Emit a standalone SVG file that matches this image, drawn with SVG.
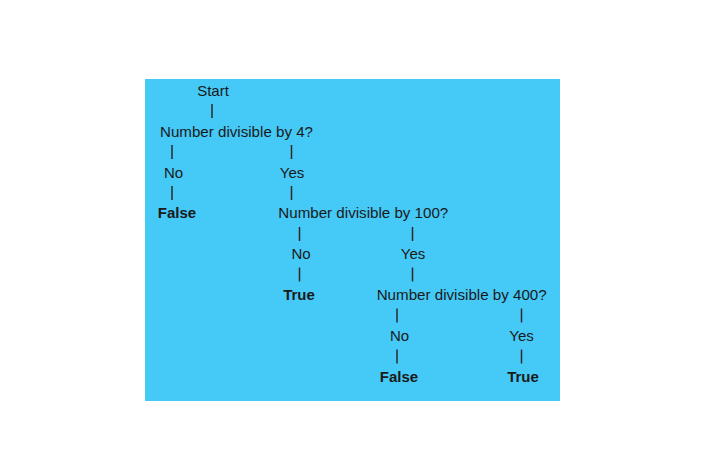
<svg xmlns="http://www.w3.org/2000/svg" width="704" height="450" viewBox="0 0 704 450">
<style>
text{font-family:"Liberation Sans",Arial,sans-serif;font-size:15px;fill:#1a1a1a}
.c{text-anchor:middle}
.b{font-weight:bold}
.bar{stroke:#2a2a2a;stroke-width:1.5}
</style>
<rect x="0" y="0" width="704" height="450" fill="#ffffff"/>
<rect id="background" x="145" y="79" width="415" height="322" fill="#45C9F6"/>
<g id="connectors">
<line class="bar" x1="212" y1="104" x2="212" y2="118"/>
<line class="bar" x1="172" y1="145" x2="172" y2="159"/>
<line class="bar" x1="291.5" y1="145" x2="291.5" y2="159"/>
<line class="bar" x1="172" y1="186" x2="172" y2="200"/>
<line class="bar" x1="291.5" y1="186" x2="291.5" y2="200"/>
<line class="bar" x1="299.5" y1="227" x2="299.5" y2="241"/>
<line class="bar" x1="412.5" y1="227" x2="412.5" y2="241"/>
<line class="bar" x1="299.5" y1="267.5" x2="299.5" y2="281.5"/>
<line class="bar" x1="412.5" y1="267.5" x2="412.5" y2="281.5"/>
<line class="bar" x1="397" y1="308.5" x2="397" y2="322.5"/>
<line class="bar" x1="521.5" y1="308.5" x2="521.5" y2="322.5"/>
<line class="bar" x1="397" y1="349.5" x2="397" y2="363.5"/>
<line class="bar" x1="521.5" y1="349.5" x2="521.5" y2="363.5"/>
</g>
<g id="start"><text class="c" x="213" y="96">Start</text></g>
<g id="q4"><text x="160" y="136.7" textLength="153" lengthAdjust="spacingAndGlyphs">Number divisible by 4?</text></g>
<g id="no1"><text class="c" x="173.5" y="177.5">No</text></g>
<g id="yes1"><text class="c" x="292" y="177.5">Yes</text></g>
<g id="false1"><text class="c b" x="177" y="218.3">False</text></g>
<g id="q100"><text x="278.3" y="218.3" textLength="170" lengthAdjust="spacingAndGlyphs">Number divisible by 100?</text></g>
<g id="no2"><text class="c" x="301" y="259.1">No</text></g>
<g id="yes2"><text class="c" x="413" y="259.1">Yes</text></g>
<g id="true1"><text class="c b" x="299" y="299.9">True</text></g>
<g id="q400"><text x="376.7" y="299.9" textLength="170" lengthAdjust="spacingAndGlyphs">Number divisible by 400?</text></g>
<g id="no3"><text class="c" x="399.5" y="340.7">No</text></g>
<g id="yes3"><text class="c" x="521.5" y="340.7">Yes</text></g>
<g id="false2"><text class="c b" x="399" y="381.5">False</text></g>
<g id="true2"><text class="c b" x="523" y="381.5">True</text></g>
</svg>
